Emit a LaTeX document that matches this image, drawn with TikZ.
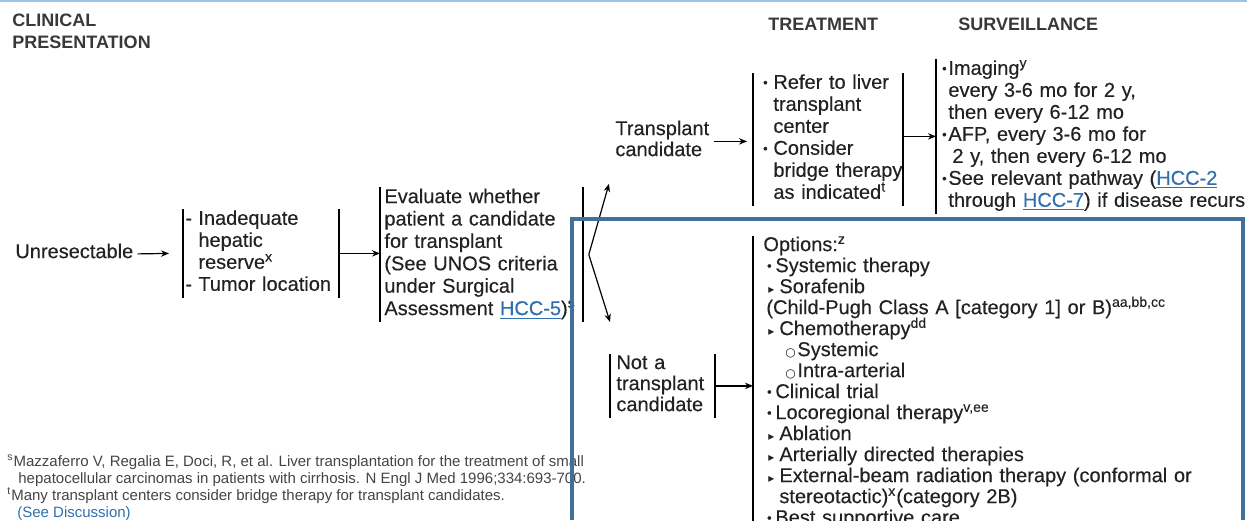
\documentclass[tikz,border=0pt]{standalone}
\usepackage{fontspec}
\setmainfont{Liberation Sans}
\newfontfamily\bodyf{Liberation Sans}[FakeBold=0.3]
\newfontfamily\symf{DejaVu Sans}
\usetikzlibrary{arrows.meta}
\hyphenpenalty=10000
\exhyphenpenalty=10000
\definecolor{ink}{HTML}{222222}
\definecolor{headc}{HTML}{383838}
\definecolor{notec}{HTML}{444444}
\definecolor{linkc}{HTML}{2F6FAD}
\definecolor{boxblue}{HTML}{41709C}
\definecolor{skyline}{HTML}{9DC3E6}
\newcommand{\sups}[1]{\smash{\textsuperscript{#1}}}
\newcommand{\hcc}[1]{\textcolor{linkc}{\underline{#1}}}
\newcommand{\bul}[1]{\makebox[#1]{\raisebox{0.9pt}{\fontsize{6.5}{6.5}\selectfont\textbullet}}}
\newcommand{\tri}{\makebox[5.5pt][l]{\symf\fontsize{6}{6}\selectfont ▸}}
\newcommand{\ring}{\makebox[6pt][l]{\symf\fontsize{6}{6}\selectfont ○}}
\newcommand{\dsh}{\hspace*{-1pt}\makebox[6.5pt][l]{-}}
\begin{document}
\begin{tikzpicture}[x=0.5pt,y=-0.5pt,
  blk/.style={align=left,anchor=north west,inner ysep=0pt,inner xsep=2pt,text=ink,font=\bodyf\fontsize{10}{#1}\selectfont},
  blk/.default=10.5,
  hd/.style={anchor=north west,inner sep=0pt,align=left,text=headc,font=\fontsize{9}{11}\selectfont\bfseries},
  arr/.style={-{Stealth[length=4pt,width=3.2pt]},line width=0.6pt},
  vbar/.style={line width=0.8pt}]
\useasboundingbox (0,0) rectangle (1247,520);
\path[draw,skyline,line width=1pt] (0,1) -- (1247,1);
\node[hd] (9) at (12,11) {\strut CLINICAL\\PRESENTATION};
\node[hd] (10) at (768,15) {\strut TREATMENT};
\node[hd] (11) at (958,15) {\strut SURVEILLANCE};
\node[blk] (1) at (11,243) {\strut Unresectable};
\node[blk=11,text width=73.5pt] (2) at (183,209) {\strut\dsh Inadequate\\\hspace*{5.5pt}hepatic\\\hspace*{5.5pt}reserve\sups{x}\\\dsh Tumor location\strut};
\node[blk=11.2,text width=97pt] (3) at (380,187) {\strut Evaluate whether\\patient a candidate\\for transplant\\(See UNOS criteria\\under Surgical\\Assessment \hcc{HCC-5})\sups{s}\strut};
\node[blk] (4) at (611,120) {\strut Transplant\\candidate\strut};
\node[blk=11,text width=70.5pt] (5) at (753,73) {\strut\bul{8pt}Refer to liver\\\hspace*{8pt}transplant\\\hspace*{8pt}center\\\bul{8pt}Consider\\\hspace*{8pt}bridge~therapy\\\hspace*{8pt}as indicated\sups{t}\strut};
\node[blk=11,text width=152pt] (6) at (936,59) {\strut\bul{4pt}Imaging\sups{y}\\\hspace*{4pt}every 3-6 mo for 2 y,\\\hspace*{4pt}then every 6-12 mo\\\bul{4pt}AFP, every 3-6 mo for\\\hspace*{6pt}2 y, then every 6-12 mo\\\bul{4pt}See relevant pathway (\hcc{HCC-2}\\\hspace*{4pt}through~\hcc{HCC-7})~if~disease~recurs\strut};
\node[blk,text width=46pt,inner xsep=3pt] (7) at (610,354) {\strut Not a\\transplant\\candidate\strut};
\node[blk,text width=235pt,inner xsep=5pt] (8) at (753,236) {\strut Options:\sups{z}\\
\bul{6pt}Systemic therapy\\
\hspace*{2.5pt}\tri Sorafenib\\
\hspace*{1.5pt}(Child-Pugh Class A [category 1] or B)\sups{aa,bb,cc}\\
\hspace*{2.5pt}\tri Chemotherapy\sups{dd}\\
\hspace*{11pt}\ring Systemic\\
\hspace*{11pt}\ring Intra-arterial\\
\bul{6pt}Clinical trial\\
\bul{6pt}Locoregional therapy\sups{v,ee}\\
\hspace*{2.5pt}\tri Ablation\\
\hspace*{2.5pt}\tri Arterially directed therapies\\
\hspace*{2.5pt}\tri External-beam radiation therapy (conformal or\\
\hspace*{8pt}stereotactic)\sups{x}(category 2B)\\
\bul{6pt}Best supportive care\strut};
\node[anchor=north west,inner sep=0pt,align=left,text=notec,font=\fontsize{7.5}{8.5}\selectfont] (12) at (7,454) {\strut\sups{s}Mazzaferro V, Regalia E, Doci, R, et al. Liver transplantation for the treatment of small\\\hspace*{5.5pt}hepatocellular carcinomas in patients with cirrhosis. N Engl J Med 1996;334:693-700.\\\sups{t}Many transplant centers consider bridge therapy for transplant candidates.\\\hspace*{5pt}\hcc{(See Discussion)}};
\coordinate (3a) at ([xshift=3pt]3.east);
\path[draw,arr] (1.east) -- ([xshift=-7pt]2.west);
\path[draw,arr] (2.east) -- (2.east -| 3.west);
\path[draw,arr] (3a) -- ([shift={(-1pt,-10.5pt)}]4.south west);
\path[draw,arr] (3a) -- ([yshift=16pt]7.north west);
\path[draw,arr] (4.east) -- ([xshift=-3pt]5.west |- 4.east);
\path[draw,arr] (5.east |- 6.west) -- (6.west);
\path[draw,arr] (7.east) -- (7.east -| 8.west);
\foreach \n in {2,3,5,7} \path[draw,vbar] (\n.north west) -- (\n.south west) (\n.north east) -- (\n.south east);
\foreach \n in {6,8} \path[draw,vbar] (\n.north west) -- (\n.south west);
\path[draw,boxblue,line width=2pt] (572,520) |- (1243,219) -- (1243,520);
\end{tikzpicture}
\end{document}
